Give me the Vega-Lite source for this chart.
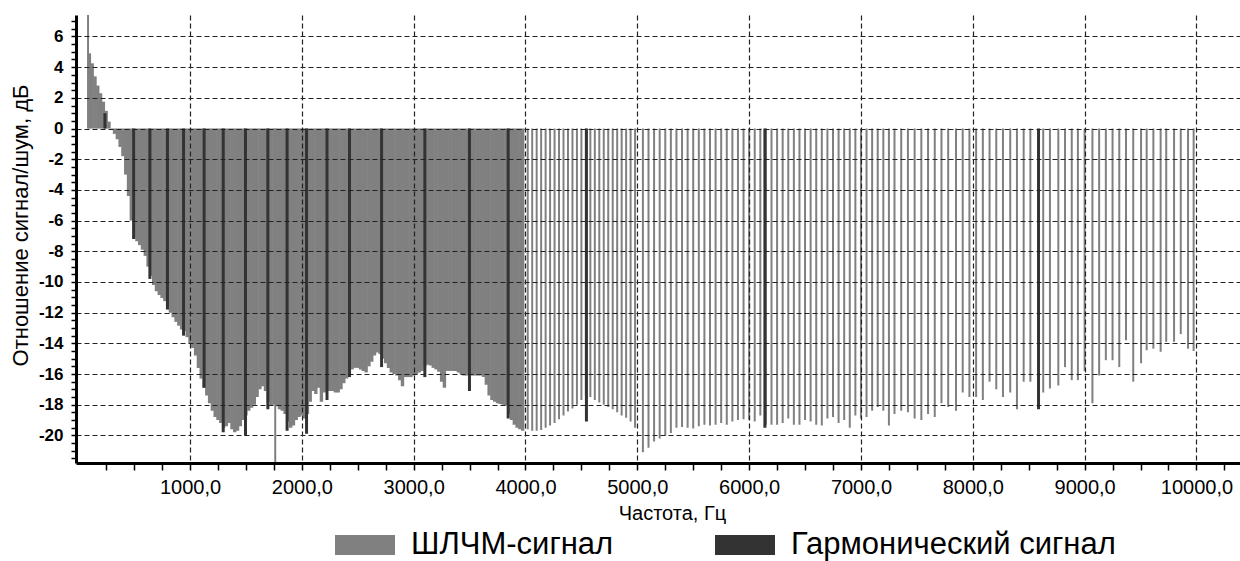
{
  "$schema": "https://vega.github.io/schema/vega-lite/v6.json",
  "width": 1164,
  "height": 448,
  "autosize": {"type": "none"},
  "padding": {"left": 76, "top": 15, "right": 0, "bottom": 98},
  "background": "white",
  "config": {"view": {"stroke": null}, "font": "Liberation Sans"},
  "datasets": {
    "dense": [
      {"f":100,"v":4.9},{"f":125,"v":4.25},{"f":150,"v":3.4},{"f":175,"v":2.8},{"f":200,"v":2.3},{"f":225,"v":1.75},{"f":250,"v":1.15},{"f":275,"v":0.45},
      {"f":300,"v":-0.1},{"f":325,"v":-0.35},{"f":350,"v":-0.7},{"f":375,"v":-1.2},{"f":400,"v":-1.8},{"f":425,"v":-3.0},{"f":450,"v":-4.4},{"f":475,"v":-6.0},
      {"f":500,"v":-7.1},{"f":525,"v":-7.35},{"f":550,"v":-7.6},{"f":575,"v":-7.9},{"f":600,"v":-8.3},{"f":625,"v":-9.0},{"f":650,"v":-9.6},{"f":675,"v":-10.2},
      {"f":700,"v":-10.6},{"f":725,"v":-10.85},{"f":750,"v":-11.05},{"f":775,"v":-11.25},{"f":800,"v":-11.6},{"f":825,"v":-12.0},{"f":850,"v":-12.3},{"f":875,"v":-12.6},
      {"f":900,"v":-12.85},{"f":925,"v":-13.1},{"f":950,"v":-13.2},{"f":975,"v":-13.6},{"f":1000,"v":-14.0},{"f":1025,"v":-14.3},{"f":1050,"v":-14.8},{"f":1075,"v":-15.6},
      {"f":1100,"v":-16.3},{"f":1125,"v":-16.9},{"f":1150,"v":-17.4},{"f":1175,"v":-17.9},{"f":1200,"v":-18.4},{"f":1225,"v":-18.8},{"f":1250,"v":-19.0},{"f":1275,"v":-19.2},
      {"f":1300,"v":-19.5},{"f":1325,"v":-19.4},{"f":1350,"v":-19.2},{"f":1375,"v":-19.6},{"f":1400,"v":-19.8},{"f":1425,"v":-19.7},{"f":1450,"v":-19.4},{"f":1475,"v":-19.0},
      {"f":1500,"v":-18.7},{"f":1525,"v":-18.4},{"f":1550,"v":-18.2},{"f":1575,"v":-18.0},{"f":1600,"v":-17.5},{"f":1625,"v":-17.0},{"f":1650,"v":-16.8},{"f":1675,"v":-17.1},
      {"f":1700,"v":-17.8},{"f":1725,"v":-18.05},{"f":1750,"v":-18.0},{"f":1775,"v":-18.1},{"f":1800,"v":-18.3},{"f":1825,"v":-18.4},{"f":1850,"v":-18.6},{"f":1875,"v":-19.1},
      {"f":1900,"v":-19.5},{"f":1925,"v":-19.35},{"f":1950,"v":-19.0},{"f":1975,"v":-18.8},{"f":2000,"v":-18.7},{"f":2025,"v":-18.9},{"f":2050,"v":-18.6},{"f":2075,"v":-17.8},
      {"f":2100,"v":-17.1},{"f":2125,"v":-17.3},{"f":2150,"v":-16.9},{"f":2175,"v":-17.8},{"f":2200,"v":-17.2},{"f":2225,"v":-17.1},{"f":2250,"v":-17.1},{"f":2275,"v":-17.1},
      {"f":2300,"v":-17.2},{"f":2325,"v":-17.2},{"f":2350,"v":-17.0},{"f":2375,"v":-16.6},{"f":2400,"v":-16.3},{"f":2425,"v":-16.0},{"f":2450,"v":-15.7},{"f":2475,"v":-15.6},
      {"f":2500,"v":-15.6},{"f":2525,"v":-15.7},{"f":2550,"v":-15.8},{"f":2575,"v":-15.9},{"f":2600,"v":-15.5},{"f":2625,"v":-15.2},{"f":2650,"v":-14.8},{"f":2675,"v":-14.6},
      {"f":2700,"v":-14.7},{"f":2725,"v":-15.0},{"f":2750,"v":-15.3},{"f":2775,"v":-15.6},{"f":2800,"v":-15.9},{"f":2825,"v":-16.0},{"f":2850,"v":-16.1},{"f":2875,"v":-16.4},
      {"f":2900,"v":-16.8},{"f":2925,"v":-16.2},{"f":2950,"v":-16.2},{"f":2975,"v":-16.2},{"f":3000,"v":-16.1},{"f":3025,"v":-16.0},{"f":3050,"v":-15.9},{"f":3075,"v":-15.8},
      {"f":3100,"v":-15.5},{"f":3125,"v":-15.4},{"f":3150,"v":-15.45},{"f":3175,"v":-15.6},{"f":3200,"v":-15.7},{"f":3225,"v":-15.85},{"f":3250,"v":-16.5},{"f":3275,"v":-16.9},
      {"f":3300,"v":-15.8},{"f":3325,"v":-15.8},{"f":3350,"v":-15.8},{"f":3375,"v":-15.8},{"f":3400,"v":-15.9},{"f":3425,"v":-16.0},{"f":3450,"v":-16.1},{"f":3475,"v":-16.1},
      {"f":3500,"v":-16.1},{"f":3525,"v":-16.1},{"f":3550,"v":-16.1},{"f":3575,"v":-16.1},{"f":3600,"v":-16.1},{"f":3625,"v":-16.2},{"f":3650,"v":-16.7},{"f":3675,"v":-17.4},
      {"f":3700,"v":-17.7},{"f":3725,"v":-17.8},{"f":3750,"v":-17.9},{"f":3775,"v":-17.95},{"f":3800,"v":-18.0},{"f":3825,"v":-18.05},{"f":3850,"v":-18.6},{"f":3875,"v":-19.0},
      {"f":3900,"v":-19.3},{"f":3925,"v":-19.5},{"f":3950,"v":-19.6},{"f":3975,"v":-19.7}
    ],
    "sparse": [
      {"f":88,"v":7.4},{"f":1762,"v":-21.8},
      {"f":4020,"v":-19.6},{"f":4060,"v":-19.7},{"f":4100,"v":-19.7},{"f":4140,"v":-19.65},{"f":4180,"v":-19.5},{"f":4220,"v":-19.35},{"f":4260,"v":-19.2},{"f":4300,"v":-18.95},
      {"f":4340,"v":-18.7},{"f":4380,"v":-18.45},{"f":4420,"v":-18.25},{"f":4460,"v":-18.0},{"f":4500,"v":-17.7},{"f":4540,"v":-17.4},{"f":4580,"v":-17.5},{"f":4620,"v":-17.7},
      {"f":4660,"v":-17.85},{"f":4700,"v":-18.0},{"f":4740,"v":-18.15},{"f":4780,"v":-18.3},{"f":4820,"v":-18.5},{"f":4860,"v":-18.7},{"f":4900,"v":-18.85},{"f":4940,"v":-19.1},{"f":4980,"v":-19.5},
      {"f":5050,"v":-21.1},{"f":5100,"v":-20.8},{"f":5150,"v":-20.4},{"f":5200,"v":-20.2},{"f":5250,"v":-20.0},{"f":5300,"v":-19.85},{"f":5350,"v":-19.5},{"f":5400,"v":-19.45},
      {"f":5450,"v":-19.5},{"f":5500,"v":-19.55},{"f":5550,"v":-19.4},{"f":5600,"v":-19.3},{"f":5650,"v":-19.35},{"f":5700,"v":-19.3},{"f":5750,"v":-19.2},{"f":5800,"v":-19.3},
      {"f":5850,"v":-19.1},{"f":5900,"v":-19.0},{"f":5950,"v":-18.95},{"f":6000,"v":-19.0},{"f":6050,"v":-19.1},{"f":6100,"v":-18.7},{"f":6150,"v":-19.3},{"f":6200,"v":-19.3},
      {"f":6250,"v":-19.3},{"f":6300,"v":-19.2},{"f":6350,"v":-18.9},{"f":6400,"v":-19.3},{"f":6450,"v":-19.3},{"f":6500,"v":-19.0},{"f":6550,"v":-19.1},{"f":6600,"v":-19.3},
      {"f":6650,"v":-19.35},{"f":6700,"v":-18.9},{"f":6750,"v":-18.8},{"f":6800,"v":-19.2},{"f":6850,"v":-19.0},{"f":6900,"v":-19.5},{"f":6950,"v":-18.7},{"f":7000,"v":-18.9},
      {"f":7050,"v":-18.8},{"f":7100,"v":-18.4},{"f":7150,"v":-18.15},{"f":7200,"v":-18.4},{"f":7250,"v":-19.35},{"f":7300,"v":-18.6},
      {"f":7360,"v":-18.4},{"f":7420,"v":-18.5},{"f":7480,"v":-18.9},{"f":7540,"v":-19.0},{"f":7600,"v":-18.6},{"f":7660,"v":-18.8},{"f":7720,"v":-17.9},{"f":7780,"v":-18.15},
      {"f":7850,"v":-18.4},{"f":7910,"v":-17.2},{"f":7970,"v":-17.5},{"f":8030,"v":-17.5},{"f":8090,"v":-17.7},{"f":8150,"v":-16.5},{"f":8210,"v":-17.0},{"f":8270,"v":-17.5},
      {"f":8335,"v":-17.2},{"f":8395,"v":-18.3},{"f":8455,"v":-16.5},{"f":8515,"v":-16.5},{"f":8630,"v":-17.2},{"f":8690,"v":-16.95},{"f":8765,"v":-16.75},{"f":8825,"v":-15.55},
      {"f":8885,"v":-16.4},{"f":8940,"v":-16.4},{"f":9000,"v":-15.8},{"f":9070,"v":-17.9},{"f":9130,"v":-16.1},{"f":9190,"v":-15.1},{"f":9250,"v":-15.1},{"f":9310,"v":-15.55},
      {"f":9370,"v":-13.8},{"f":9435,"v":-16.5},{"f":9505,"v":-15.3},{"f":9555,"v":-14.45},{"f":9615,"v":-14.35},{"f":9680,"v":-14.55},{"f":9730,"v":-13.9},{"f":9800,"v":-13.9},
      {"f":9860,"v":-13.4},{"f":9925,"v":-14.35},{"f":9975,"v":-14.5}
    ],
    "harm": [
      {"f":239,"v":1.0},{"f":496,"v":-7.2},{"f":641,"v":-9.8},{"f":798,"v":-11.8},{"f":942,"v":-13.5},{"f":1126,"v":-16.9},{"f":1297,"v":-19.8},
      {"f":1496,"v":-20.0},{"f":1696,"v":-18.3},{"f":1868,"v":-19.7},{"f":2042,"v":-19.9},{"f":2225,"v":-17.7},{"f":2426,"v":-16.2},{"f":2713,"v":-15.55},
      {"f":3100,"v":-16.2},{"f":3499,"v":-17.1},{"f":3845,"v":-18.9},{"f":4545,"v":-19.1},{"f":6141,"v":-19.5},{"f":8588,"v":-18.3}
    ]
  },
  "encoding": {
    "x": {
      "field": "f", "type": "quantitative",
      "scale": {"domain": [25, 10345], "nice": false, "zero": false},
      "axis": {
        "title": "Частота, Гц",
        "values": [250,500,750,1000,1250,1500,1750,2000,2250,2500,2750,3000,3250,3500,3750,4000,4250,4500,4750,5000,5250,5500,5750,6000,6250,6500,6750,7000,7250,7500,7750,8000,8250,8500,8750,9000,9250,9500,9750,10000,10250],
        "labelExpr": "datum.value % 1000 === 0 ? replace(format(datum.value, '.1f'), '.', ',') : ''",
        "labelOverlap": false, "labelFlush": false, "labelBound": false,
        "labelFont": "Liberation Sans Narrow, Liberation Sans", "labelFontSize": 20, "labelColor": "black", "labelPadding": 7,
        "tickSize": 7, "tickWidth": 1.5, "tickColor": "black",
        "domainColor": "black", "domainWidth": 3,
        "grid": true, "gridColor": "#222222", "gridDash": [5, 3], "gridWidth": 1.2,
        "gridOpacity": {"condition": {"test": "datum.value % 1000 === 0", "value": 1}, "value": 0},
        "zindex": 1,
        "titleFont": "Liberation Sans Narrow, Liberation Sans", "titleFontSize": 20, "titleFontWeight": "normal", "titleColor": "black",
        "titleX": 596, "titlePadding": 6
      }
    },
    "y": {
      "field": "v", "type": "quantitative",
      "scale": {"domain": [-21.8, 7.4], "nice": false, "zero": false},
      "axis": {
        "title": "Отношение сигнал/шум, дБ",
        "values": [-21.5,-21,-20.5,-20,-19.5,-19,-18.5,-18,-17.5,-17,-16.5,-16,-15.5,-15,-14.5,-14,-13.5,-13,-12.5,-12,-11.5,-11,-10.5,-10,-9.5,-9,-8.5,-8,-7.5,-7,-6.5,-6,-5.5,-5,-4.5,-4,-3.5,-3,-2.5,-2,-1.5,-1,-0.5,0,0.5,1,1.5,2,2.5,3,3.5,4,4.5,5,5.5,6,6.5,7],
        "labelExpr": "datum.value % 2 === 0 ? '' + datum.value : ''",
        "labelOverlap": false, "labelFlush": false, "labelBound": false,
        "labelFont": "Liberation Sans", "labelFontWeight": "bold", "labelFontSize": 17, "labelColor": "black", "labelPadding": 8,
        "tickSize": 5, "tickWidth": 1.5, "tickColor": "black",
        "domainColor": "black", "domainWidth": 3,
        "grid": true, "gridColor": "#222222", "gridDash": [5, 3], "gridWidth": 1.2,
        "gridOpacity": {"condition": {"test": "datum.value % 2 === 0", "value": 1}, "value": 0},
        "zindex": 1,
        "titleFont": "Liberation Sans", "titleFontSize": 22, "titleFontWeight": "normal", "titleColor": "black",
        "titlePadding": 6, "titleY": 210
      }
    },
    "y2": {"datum": 0}
  },
  "layer": [
    {
      "data": {"name": "dense"},
      "mark": {"type": "bar", "size": 3.4},
      "encoding": {
        "color": {
          "datum": "ШЛЧМ-сигнал", "type": "nominal",
          "scale": {"domain": ["ШЛЧМ-сигнал", "Гармонический сигнал"], "range": ["#808080", "#333333"]},
          "legend": {
            "title": null, "orient": "none", "legendX": 259, "legendY": 500, "direction": "horizontal",
            "symbolType": "M-1,-0.333H1V0.333H-1Z", "symbolSize": 3600, "symbolStrokeWidth": 0,
            "labelFont": "Liberation Sans", "labelFontSize": 31, "labelColor": "black", "labelOffset": 16, "labelLimit": 0,
            "columnPadding": 101, "padding": 0
          }
        }
      }
    },
    {
      "data": {"name": "sparse"},
      "mark": {"type": "bar", "size": 2},
      "encoding": {
        "color": {
          "datum": "ШЛЧМ-сигнал", "type": "nominal",
          "scale": {"domain": ["ШЛЧМ-сигнал", "Гармонический сигнал"], "range": ["#808080", "#333333"]}
        }
      }
    },
    {
      "data": {"name": "harm"},
      "mark": {"type": "bar", "size": 3},
      "encoding": {
        "color": {
          "datum": "Гармонический сигнал", "type": "nominal",
          "scale": {"domain": ["ШЛЧМ-сигнал", "Гармонический сигнал"], "range": ["#808080", "#333333"]}
        }
      }
    }
  ]
}
